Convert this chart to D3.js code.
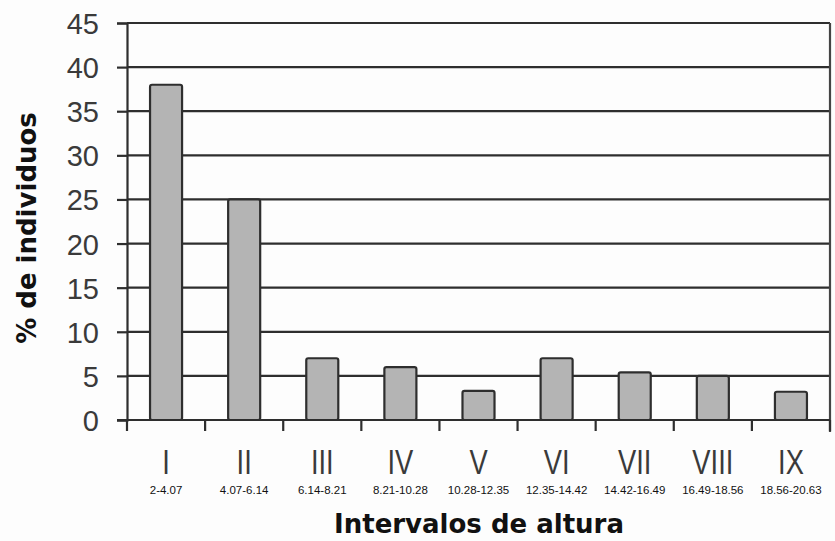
<!DOCTYPE html>
<html>
<head>
<meta charset="utf-8">
<script src="https://cdn.jsdelivr.net/npm/d3@7"></script>
<style>
  html, body { margin: 0; padding: 0; background: #fdfdfd; }
  svg { display: block; }
</style>
</head>
<body>
<svg id="chart" width="835" height="541"></svg>
<script>
// Height classes (roman numerals), their ranges and % of individuals
const classes = ["I", "II", "III", "IV", "V", "VI", "VII", "VIII", "IX"];
const ranges = ["2-4.07", "4.07-6.14", "6.14-8.21", "8.21-10.28", "10.28-12.35",
                "12.35-14.42", "14.42-16.49", "16.49-18.56", "18.56-20.63"];
const percents = [38, 25, 7, 6, 3.3, 7, 5.4, 5, 3.2];
const yTicks = [0, 5, 10, 15, 20, 25, 30, 35, 40, 45];

const svg = d3.select("#chart");
const m = { left: 127, right: 830, top: 23, bottom: 420 };
const ink = "#2e2e2e";

const x = d3.scaleBand().domain(classes).range([m.left, m.right]).paddingInner(0.59).paddingOuter(0.295);
const xb = d3.scaleBand().domain(classes).range([m.left, m.right]);
const y = d3.scaleLinear().domain([0, 45]).range([m.bottom, m.top]);

// horizontal gridlines
svg.append("g").selectAll("line").data(yTicks).join("line")
  .attr("x1", m.left).attr("x2", m.right)
  .attr("y1", d => y(d)).attr("y2", d => y(d))
  .attr("stroke", ink).attr("stroke-width", 2.2);

// y axis with outward ticks
const yAxis = svg.append("g").attr("transform", `translate(${m.left},0)`)
  .call(d3.axisLeft(y).tickValues(yTicks).tickSize(10).tickPadding(18).tickFormat(d3.format("d")));
yAxis.select(".domain").attr("stroke", ink).attr("stroke-width", 2.2);
yAxis.selectAll(".tick line").attr("stroke", ink).attr("stroke-width", 2.2);
yAxis.selectAll(".tick text")
  .attr("fill", "#3a3a3a").attr("font-family", "'Liberation Sans', Arial, sans-serif")
  .attr("font-size", 29).attr("dy", "0.36em");

// right border
svg.append("line").attr("x1", m.right).attr("x2", m.right)
  .attr("y1", m.top).attr("y2", m.bottom + 12)
  .attr("stroke", "#444").attr("stroke-width", 2.2);

// bars
svg.append("g").selectAll("rect").data(percents).join("rect")
  .attr("x", (d, i) => x(classes[i]))
  .attr("width", x.bandwidth())
  .attr("y", d => y(d))
  .attr("height", d => y(0) - y(d))
  .attr("rx", 2)
  .attr("fill", "#b4b4b4").attr("stroke", ink).attr("stroke-width", 2.2);

// x axis line with category separators
const xAxis = svg.append("g").attr("transform", `translate(0,${m.bottom})`);
xAxis.append("line").attr("x1", m.left - 10).attr("x2", m.right)
  .attr("stroke", ink).attr("stroke-width", 2.2);
const edges = classes.map(c => xb(c)).concat([m.right]);
xAxis.selectAll("line.sep").data(edges).join("line").attr("class", "sep")
  .attr("x1", d => d).attr("x2", d => d).attr("y1", 0).attr("y2", 11)
  .attr("stroke", ink).attr("stroke-width", 2.2);

// roman numerals
const mid = c => xb(c) + xb.bandwidth() / 2;
svg.append("g").selectAll("text").data(classes).join("text")
  .attr("x", 0).attr("y", 0)
  .attr("text-anchor", "middle")
  .attr("fill", "#3a3a3a")
  .attr("font-family", "'Liberation Sans', Arial, sans-serif")
  .attr("font-size", 35)
  .attr("transform", d => `translate(${mid(d)},474) scale(0.78,1)`)
  .text(d => d);

// interval ranges
svg.append("g").selectAll("text").data(ranges).join("text")
  .attr("x", (d, i) => mid(classes[i]))
  .attr("y", 494)
  .attr("text-anchor", "middle")
  .attr("fill", "#111")
  .attr("font-family", "'Liberation Sans', Arial, sans-serif")
  .attr("font-size", 11.5)
  .text(d => d);

// axis titles
svg.append("text")
  .attr("x", 479).attr("y", 533)
  .attr("text-anchor", "middle")
  .attr("font-family", "'DejaVu Sans', Verdana, sans-serif")
  .attr("font-weight", "bold").attr("font-size", 26).attr("fill", "#111")
  .text("Intervalos de altura");

svg.append("text")
  .attr("transform", "translate(36,228) rotate(-90)")
  .attr("text-anchor", "middle")
  .attr("font-family", "'DejaVu Sans', Verdana, sans-serif")
  .attr("font-weight", "bold").attr("font-size", 26).attr("fill", "#111")
  .text("% de individuos");
</script>
</body>
</html>
